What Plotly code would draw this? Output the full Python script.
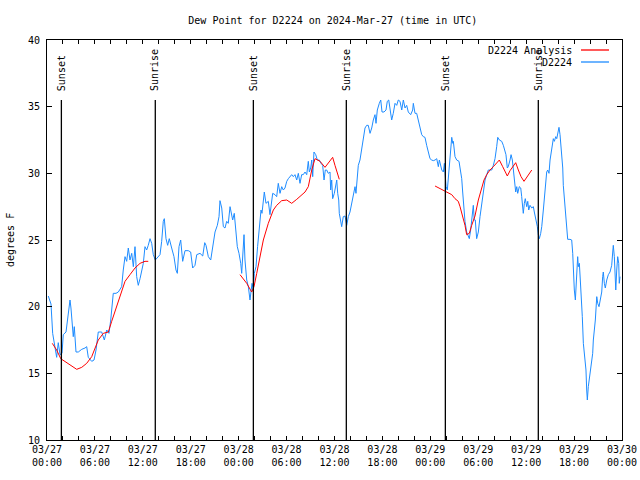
import datetime as dt
import plotly.graph_objects as go

BASE = dt.datetime(2024, 3, 27, 0, 0)

# Observed dew point (D2224): hours since 03/27 00:00 UTC, degrees F
obs_hours = [0.16, 0.5, 0.71, 1.0, 1.21, 1.41, 1.63, 1.88, 2.04, 2.38, 2.67, 2.88, 3.0, 3.17, 3.29, 3.42,
             3.63, 3.92, 4.35, 4.76, 4.97, 5.17, 5.6, 5.89, 6.14, 6.42, 6.85, 7.18, 7.48, 7.76, 7.98,
             8.3, 8.64, 8.93, 9.35, 9.55, 9.77, 9.98, 10.18, 10.39, 10.61, 10.81, 11.02, 11.23, 11.43,
             11.65, 11.86, 12.06, 12.27, 12.48, 12.68, 12.9, 13.11, 13.31, 13.56, 13.94, 14.15, 14.36,
             14.56, 14.69, 14.9, 15.11, 15.31, 15.61, 15.9, 16.15, 16.32, 16.53, 16.74, 16.99, 17.28,
             17.69, 17.99, 18.24, 18.53, 18.75, 19.16, 19.5, 19.75, 19.91, 20.2, 20.5, 20.75, 21.04,
             21.33, 21.54, 21.66, 21.88, 22.08, 22.29, 22.5, 22.7, 22.92, 23.04, 23.25, 23.45, 23.67,
             23.83, 24.04, 24.26, 24.38, 24.58, 24.67, 24.79, 25.01, 25.21, 25.33, 25.42, 25.67, 25.83,
             25.96, 26.17, 26.37, 26.67, 26.8, 26.92, 27.09, 27.21, 27.42, 27.71, 27.92, 28.14, 28.26,
             28.55, 28.76, 28.96, 29.18, 29.39, 29.59, 29.8, 30.02, 30.22, 30.64, 30.84, 31.05, 31.27,
             31.47, 31.68, 31.89, 32.09, 32.31, 32.52, 32.72, 32.85, 33.02, 33.15, 33.27, 33.43, 33.65,
             33.85, 34.1, 34.31, 34.52, 34.69, 34.85, 35.02, 35.22, 35.44, 35.52, 35.65, 35.77, 35.98,
             36.15, 36.28, 36.4, 36.53, 36.6, 36.78, 36.9, 37.1, 37.32, 37.53, 37.73, 37.94, 38.15,
             38.36, 38.57, 38.69, 38.86, 38.98, 39.19, 39.41, 39.61, 39.82, 40.03, 40.23, 40.45, 40.66,
             40.86, 41.07, 41.2, 41.36, 41.61, 41.79, 41.95, 42.2, 42.45, 42.61, 42.79, 42.95, 43.16,
             43.36, 43.58, 43.79, 43.99, 44.2, 44.42, 44.62, 44.83, 45.04, 45.24, 45.54, 45.79, 45.87,
             46.08, 46.29, 46.49, 46.71, 46.92, 47.12, 47.33, 47.54, 47.75, 47.96, 48.17, 48.37, 48.59,
             48.8, 49.0, 49.13, 49.43, 49.63, 49.76, 49.97, 50.13, 50.26, 50.38, 50.56, 50.68, 50.81,
             50.88, 51.09, 51.3, 51.59, 51.72, 51.93, 52.05, 52.21, 52.34, 52.55, 52.75, 52.88, 53.05,
             53.18, 53.3, 53.38, 53.5, 53.63, 53.8, 54.01, 54.22, 54.43, 54.63, 54.85, 55.06, 55.26,
             55.47, 55.69, 55.89, 56.1, 56.31, 56.44, 56.64, 56.94, 57.14, 57.35, 57.47, 57.64, 57.76,
             57.98, 58.11, 58.27, 58.39, 58.52, 58.69, 58.82, 58.94, 59.14, 59.32, 59.44, 59.57, 59.64,
             59.77, 59.89, 60.07, 60.2, 60.32, 60.48, 60.7, 60.9, 61.02, 61.23, 61.4, 61.52, 61.65,
             61.82, 61.95, 62.15, 62.36, 62.57, 62.7, 62.86, 62.99, 63.2, 63.4, 63.53, 63.7, 63.83,
             63.95, 64.11, 64.24, 64.45, 64.58, 64.65, 64.86, 65.08, 65.2, 65.49, 65.7, 65.83, 65.91,
             66.03, 66.16, 66.24, 66.33, 66.45, 66.53, 66.66, 66.78, 66.91, 67.03, 67.16, 67.37, 67.49,
             67.58, 67.66, 67.78, 67.99, 68.2, 68.33, 68.41, 68.54, 68.66, 68.84, 68.96, 69.12, 69.25,
             69.46, 69.58, 69.66, 69.79, 69.91, 70.09, 70.29, 70.5, 70.71, 70.84, 70.91, 71.04, 71.22,
             71.34, 71.46, 71.59, 71.66, 71.75]
obs_values = [20.8, 20.2, 18.0, 16.75, 16.2, 17.3, 16.4, 16.5, 17.9, 18.1, 19.5, 20.5, 19.9, 18.5, 17.75, 18.5,
              16.6, 16.6, 16.8, 16.9, 17.0, 16.2, 15.9, 16.0, 16.75, 18.1, 18.1, 17.5, 18.25, 18.0, 19.0,
              21.0, 21.0, 21.1, 21.5, 22.75, 23.75, 23.4, 24.4, 23.5, 24.0, 23.0, 24.5, 22.25, 21.6,
              22.1, 22.75, 23.25, 24.5, 24.25, 24.6, 25.1, 24.75, 23.9, 23.5, 23.75, 23.9, 24.9,
              26.4, 26.6, 25.1, 24.6, 25.1, 24.4, 23.75, 22.75, 22.5, 24.5, 25.0, 23.4, 24.2,
              24.2, 24.1, 22.9, 23.1, 23.9, 24.0, 23.8, 24.8, 24.6, 23.75, 23.5, 24.6, 25.6,
              26.1, 26.75, 27.95, 27.4, 26.0, 25.9, 26.4, 26.25, 27.5, 27.0, 26.5, 27.0, 25.25,
              24.5, 24.0, 23.25, 22.5, 24.25, 25.4, 23.5, 22.0, 21.5, 21.0, 20.5, 21.75, 21.3,
              22.5, 23.0, 24.5, 26.5, 27.25, 27.0, 28.25, 28.6, 27.75, 27.9, 26.9, 27.75, 28.5,
              28.4, 28.25, 29.25, 28.5, 29.0, 28.75, 28.9, 29.4, 29.6, 29.9, 29.75, 29.9, 29.5,
              30.0, 29.25, 29.9, 29.9, 30.1, 29.9, 30.9, 30.1, 30.4, 31.0, 29.75, 31.6, 31.4,
              31.0, 31.0, 30.75, 30.6, 29.5, 30.25, 30.25, 30.0, 30.1, 28.75, 29.5, 28.1, 28.5,
              29.25, 29.5, 28.5, 28.0, 27.0, 26.25, 26.0, 26.75, 26.8, 26.1, 26.75, 27.1, 27.75,
              28.6, 29.0, 28.5, 29.5, 30.6, 31.0, 31.9, 32.6, 33.4, 33.6, 33.6, 33.0, 33.4,
              34.0, 34.4, 33.75, 34.75, 35.25, 35.5, 34.6, 34.6, 34.75, 35.4, 35.5, 34.9, 34.0,
              34.5, 35.25, 35.1, 35.5, 35.4, 34.75, 35.5, 34.9, 35.1, 34.6, 34.4, 34.75, 35.25,
              34.5, 34.5, 34.0, 33.4, 32.9, 32.75, 32.7, 32.1, 31.6, 31.1, 31.0, 30.95, 31.0,
              31.1, 30.5, 31.0, 30.25, 30.1, 30.75, 29.0, 28.75, 29.75, 30.25, 32.0, 32.7, 32.25,
              32.4, 31.25, 31.0, 30.9, 30.4, 29.6, 28.6, 27.25, 26.4, 25.6, 25.25, 25.1, 25.75,
              26.4, 27.25, 27.6, 26.5, 26.5, 25.1, 25.6, 26.75, 27.75, 28.6, 29.5, 29.9, 30.25,
              30.25, 30.25, 30.6, 31.1, 32.0, 32.7, 32.5, 32.4, 32.1, 31.75, 31.4, 30.4, 30.5,
              31.0, 31.4, 31.0, 30.25, 29.1, 28.6, 29.0, 28.5, 29.0, 28.9, 28.25, 27.5, 27.0,
              27.75, 28.1, 27.5, 27.9, 27.25, 27.6, 27.4, 27.5, 27.1, 26.6, 26.0, 25.4, 25.1,
              25.5, 26.0, 27.25, 28.5, 30.1, 30.25, 30.0, 31.0, 31.9, 32.6, 32.4, 32.75, 32.6,
              33.1, 33.45, 32.9, 31.5, 30.4, 29.1, 27.25, 25.5, 25.05, 25.05, 25.0, 24.0, 22.25,
              21.25, 20.5, 21.4, 22.5, 23.75, 23.0, 23.25, 22.0, 20.75, 19.25, 17.25, 16.25, 15.25,
              13.75, 13.0, 14.0, 15.0, 15.9, 16.5, 17.5, 18.25, 19.0, 20.75, 20.25, 20.0, 20.5,
              21.1, 22.25, 22.6, 21.75, 21.4, 22.0, 22.4, 22.6, 23.1, 24.1, 24.6, 23.75, 21.25,
              22.75, 23.75, 23.25, 21.75, 22.25]

# Analysis (three separate periods)
ana1_hours = [0.66, 1.21, 1.72, 2.25, 2.88, 3.72, 4.35, 4.97, 5.6, 6.01, 6.42, 7.05, 7.68, 8.1, 8.73,
              9.35, 9.77, 10.39, 11.02, 11.65, 12.27, 12.68]
ana1_values = [17.25, 16.75, 16.1, 15.9, 15.6, 15.3, 15.45, 15.75, 16.25, 16.9, 17.5, 18.0, 18.1, 18.9, 20.0,
               21.25, 21.9, 22.4, 22.9, 23.25, 23.4, 23.4]
ana2_hours = [24.17, 25.01, 25.63, 25.92, 26.26, 26.67, 27.09, 27.71, 28.34, 28.76, 29.39, 30.02, 30.64,
              31.27, 31.89, 32.31, 32.72, 33.15, 33.56, 34.19, 34.81, 35.22, 35.77, 36.06, 36.35, 36.6]
ana2_values = [22.4, 21.75, 21.1, 21.5, 22.5, 23.75, 25.0, 26.25, 27.25, 27.6, 27.95, 28.0, 27.75,
               28.05, 28.4, 28.6, 29.0, 30.25, 31.1, 30.9, 30.45, 30.75, 31.2, 30.6, 30.1, 29.55]
ana3_hours = [48.59, 49.43, 50.05, 50.68, 51.09, 51.5, 51.72, 52.05, 52.34, 52.55, 52.88, 53.18, 53.59,
              54.01, 54.43, 54.72, 55.06, 55.47, 55.89, 56.31, 56.64, 57.06, 57.64, 57.98, 58.39, 58.69,
              59.02, 59.36, 59.73, 60.15, 60.7]
ana3_values = [29.05, 28.8, 28.6, 28.4, 28.1, 27.9, 27.5, 26.75, 26.1, 25.4, 25.5, 26.1, 26.8,
               28.0, 28.9, 29.5, 29.9, 30.25, 30.5, 30.75, 31.0, 30.5, 29.8, 30.2, 30.55, 30.8,
               30.25, 29.75, 29.4, 29.75, 30.25]

# Sun events (hours since 03/27 00:00 UTC)
event_labels = ["Sunset", "Sunrise", "Sunset", "Sunrise", "Sunset", "Sunrise"]
event_hours = [1.80, 13.56, 25.84, 37.48, 49.88, 61.52]

series_names = ["D2224 Analysis", "D2224"]
series_colors = ["#ff0000", "#1e8cff"]


def to_time(h):
    return BASE + dt.timedelta(hours=h)


FONT = "DejaVu Sans Mono"

ana_x, ana_y = [], []
for hs, vs in [(ana1_hours, ana1_values), (ana2_hours, ana2_values), (ana3_hours, ana3_values)]:
    ana_x += [to_time(h) for h in hs] + [None]
    ana_y += list(vs) + [None]

fig = go.Figure()
fig.add_trace(go.Scatter(x=[to_time(h) for h in obs_hours], y=obs_values, mode="lines",
                         name=series_names[1], line=dict(color=series_colors[1], width=1),
                         showlegend=False))
fig.add_trace(go.Scatter(x=ana_x, y=ana_y, mode="lines", connectgaps=False,
                         name=series_names[0], line=dict(color=series_colors[0], width=1),
                         showlegend=False))

for lab, h in zip(event_labels, event_hours):
    t = to_time(h)
    fig.add_shape(type="line", xref="x", yref="paper", x0=t, x1=t, y0=0, y1=0.85,
                  line=dict(color="black", width=1.3))
    fig.add_annotation(x=t, y=0.868, xref="x", yref="paper", text=lab, textangle=-90,
                       showarrow=False, xanchor="center", yanchor="bottom",
                       font=dict(family=FONT, size=10, color="black"))

# manual gnuplot-style legend (text left of sample line)
leg_y = [0.975, 0.945]
for name, col, yy in zip(series_names, series_colors, leg_y):
    fig.add_annotation(x=0.9165, y=yy, xref="paper", yref="paper", text=name, showarrow=False,
                       xanchor="right", yanchor="middle",
                       font=dict(family=FONT, size=10, color="black"))
    fig.add_shape(type="line", xref="paper", yref="paper", x0=0.9287, x1=0.9774, y0=yy, y1=yy,
                  line=dict(color=col, width=1.3))

fig.add_annotation(x=0, y=0.5, xref="paper", yref="paper", xshift=-37, text="degrees F",
                   textangle=-90, showarrow=False, xanchor="center", yanchor="middle",
                   font=dict(family=FONT, size=10, color="black"))

fig.update_layout(
    width=640, height=480, autosize=False,
    margin=dict(l=47, r=18, t=40, b=40, pad=0, autoexpand=False),
    paper_bgcolor="white", plot_bgcolor="white",
    font=dict(family=FONT, size=10, color="black"),
    title=dict(text="Dew Point for D2224 on 2024-Mar-27 (time in UTC)", x=0.52, xanchor="center",
               y=1 - 20 / 480, yanchor="middle", yref="container",
               font=dict(family=FONT, size=10, color="black")),
    showlegend=False,
)
fig.update_xaxes(
    range=[BASE, BASE + dt.timedelta(hours=72)], automargin=False,
    tickmode="linear", tick0=BASE, dtick=6 * 3600 * 1000,
    tickformat="%m/%d<br>%H:%M",
    ticks="inside", ticklen=4, tickcolor="black", tickwidth=1,
    minor=dict(dtick=2 * 3600 * 1000, ticks="inside", ticklen=4, tickcolor="black"),
    showline=True, linecolor="black", linewidth=1, mirror="allticks",
    showgrid=False, zeroline=False,
    tickfont=dict(family=FONT, size=10, color="black"),
)
fig.update_yaxes(
    range=[10, 40], automargin=False, tickmode="linear", tick0=10, dtick=5,
    ticks="inside", ticklen=5, tickcolor="black", tickwidth=1,
    showline=True, linecolor="black", linewidth=1, mirror="allticks",
    showgrid=False, zeroline=False, ticklabelstandoff=4,
    tickfont=dict(family=FONT, size=10, color="black"),
)

fig.write_html("out.html", config={"displayModeBar": False, "responsive": False})

# remove the default page margin so the figure sits at the window origin
with open("out.html", "r", encoding="utf-8") as f:
    html = f.read()
html = html.replace("<body>", '<body style="margin:0;padding:0;overflow:hidden">', 1)
with open("out.html", "w", encoding="utf-8") as f:
    f.write(html)
